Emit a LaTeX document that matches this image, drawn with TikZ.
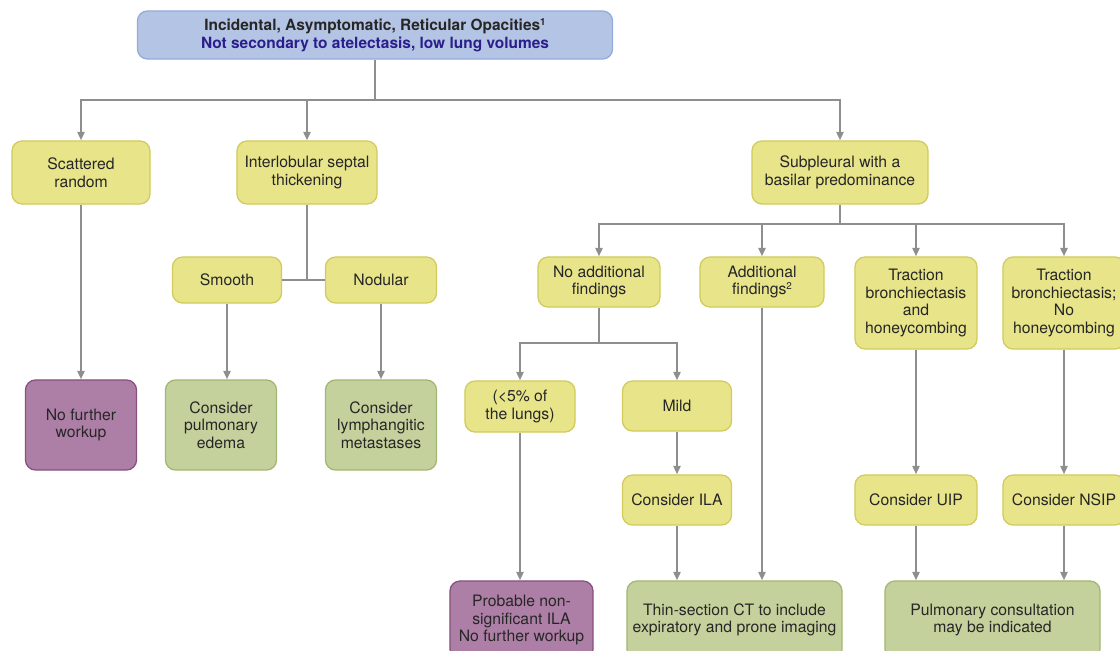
\documentclass[tikz,border=0pt]{standalone}
\usepackage{fontspec}
\setmainfont{TeX Gyre Heros}
\usepackage{tikz}
\usetikzlibrary{arrows.meta}

\definecolor{yfill}{HTML}{E8E48A}
\definecolor{ydraw}{HTML}{D2CB5C}
\definecolor{gfill}{HTML}{C4D19C}
\definecolor{gdraw}{HTML}{A2B774}
\definecolor{pfill}{HTML}{AE7FA6}
\definecolor{pdraw}{HTML}{87507E}
\definecolor{bfill}{HTML}{B4C4E4}
\definecolor{bdraw}{HTML}{93AADA}
\definecolor{linegray}{HTML}{8E8E8E}
\definecolor{topblue}{HTML}{2B1E8C}

\newcommand{\fnmark}[1]{\raisebox{0.7ex}{\fontsize{7}{7}\selectfont #1}}

\tikzset{
  box/.style={draw, rounded corners=0.25cm, line width=0.9pt, align=center,
    inner sep=1pt, text=black!85, font=\fontsize{11.2}{12.5}\selectfont},
  ybox/.style={box, fill=yfill, draw=ydraw},
  gbox/.style={box, fill=gfill, draw=gdraw},
  pbox/.style={box, fill=pfill, draw=pdraw},
  conn/.style={draw=linegray, line width=1.5pt},
  arr/.style={conn, -{Triangle[length=6pt,width=5pt]}}
}

\begin{document}
\begin{tikzpicture}[x=0.025cm, y=-0.025cm]

\useasboundingbox (0,0) rectangle (1120,651);
\clip (0,0) rectangle (1120,651);

\node[box, fill=bfill, draw=bdraw, minimum width=11.875cm, minimum height=1.2cm,
  font=\bfseries\fontsize{11}{12.5}\selectfont] (top) at (375,35)
  {Incidental, Asymptomatic, Reticular Opacities\fnmark{1}\\
   \textcolor{topblue}{Not secondary to atelectasis, low lung volumes}};

\node[ybox, minimum width=3.45cm, minimum height=1.575cm] (scat) at (81,172.5) {Scattered\\random};
\node[ybox, minimum width=3.5cm, minimum height=1.575cm] (inter) at (307,172.5) {Interlobular septal\\thickening};
\node[ybox, minimum width=4.4cm, minimum height=1.575cm] (subp) at (840,172.5) {Subpleural with a\\basilar predominance};

\node[ybox, minimum width=2.725cm, minimum height=1.15cm] (smooth) at (227,280) {Smooth};
\node[ybox, minimum width=2.775cm, minimum height=1.15cm] (nod) at (381,280) {Nodular};

\node[pbox, minimum width=2.775cm, minimum height=2.25cm] (nfw) at (81,425) {No further\\workup};
\node[gbox, minimum width=2.775cm, minimum height=2.25cm] (edema) at (221,425) {Consider\\pulmonary\\edema};
\node[gbox, minimum width=2.775cm, minimum height=2.25cm] (lymph) at (381,425) {Consider\\lymphangitic\\metastases};

\node[ybox, minimum width=3.05cm, minimum height=1.25cm] (noadd) at (599,282) {No additional\\findings};
\node[ybox, minimum width=3.1cm, minimum height=1.25cm] (addf) at (762,282) {Additional\\findings\fnmark{2}};
\node[ybox, minimum width=3.05cm, minimum height=2.3cm] (trhc) at (916,303) {Traction\\bronchiectasis\\and\\honeycombing};
\node[ybox, minimum width=3.05cm, minimum height=2.3cm] (trnh) at (1064,303) {Traction\\bronchiectasis;\\No\\honeycombing};

\node[ybox, minimum width=2.75cm, minimum height=1.275cm] (lt5) at (520,406.5) {(<5\% of\\the lungs)};
\node[ybox, minimum width=2.725cm, minimum height=1.25cm] (mild) at (677,406) {Mild};
\node[ybox, minimum width=2.725cm, minimum height=1.25cm] (cila) at (677,500) {Consider ILA};
\node[ybox, minimum width=3.05cm, minimum height=1.25cm] (cuip) at (916,500) {Consider UIP};
\node[ybox, minimum width=3.05cm, minimum height=1.25cm] (cnsip) at (1064,500) {Consider NSIP};

\node[pbox, minimum width=3.575cm, minimum height=1.95cm] (prob) at (521.5,620) {Probable non-\\significant ILA\\No further workup};
\node[gbox, minimum width=5.375cm, minimum height=1.95cm] (thin) at (734.5,620) {Thin-section CT to include\\expiratory and prone imaging};
\node[gbox, minimum width=5.375cm, minimum height=1.95cm] (pulm) at (992.5,620) {Pulmonary consultation\\may be indicated};

\coordinate (s1) at (375,100);
\coordinate (s2) at (307,280);
\coordinate (s3) at (840,224);
\coordinate (s4) at (599,343);

\draw[conn] (top.south) -- (s1);
\draw[arr] (s1) -| (scat.north);
\draw[arr] (s1) -| (inter.north);
\draw[arr] (s1) -| (subp.north);

\draw[arr] (scat.south) -- (scat.south |- nfw.north);

\draw[conn] (inter.south) -- (s2);
\draw[conn] (smooth.east) -- (nod.west);
\draw[arr] (smooth.south) -- (smooth.south |- edema.north);
\draw[arr] (nod.south) -- (nod.south |- lymph.north);

\draw[conn] (subp.south) -- (s3);
\draw[arr] (s3) -| (noadd.north);
\draw[arr] (s3) -| (addf.north);
\draw[arr] (s3) -| (trhc.north);
\draw[arr] (s3) -| (trnh.north);

\draw[conn] (noadd.south) -- (s4);
\draw[arr] (s4) -| (lt5.north);
\draw[arr] (s4) -| (mild.north);

\draw[arr] (mild) -- (cila);
\draw[arr] (lt5.south) -- (lt5.south |- prob.north);
\draw[arr] (cila.south) -- (cila.south |- thin.north);
\draw[arr] (addf.south) -- (addf.south |- thin.north);

\draw[arr] (trhc) -- (cuip);
\draw[arr] (trnh) -- (cnsip);
\draw[arr] (cuip.south) -- (cuip.south |- pulm.north);
\draw[arr] (cnsip.south) -- (cnsip.south |- pulm.north);

\end{tikzpicture}
\end{document}
